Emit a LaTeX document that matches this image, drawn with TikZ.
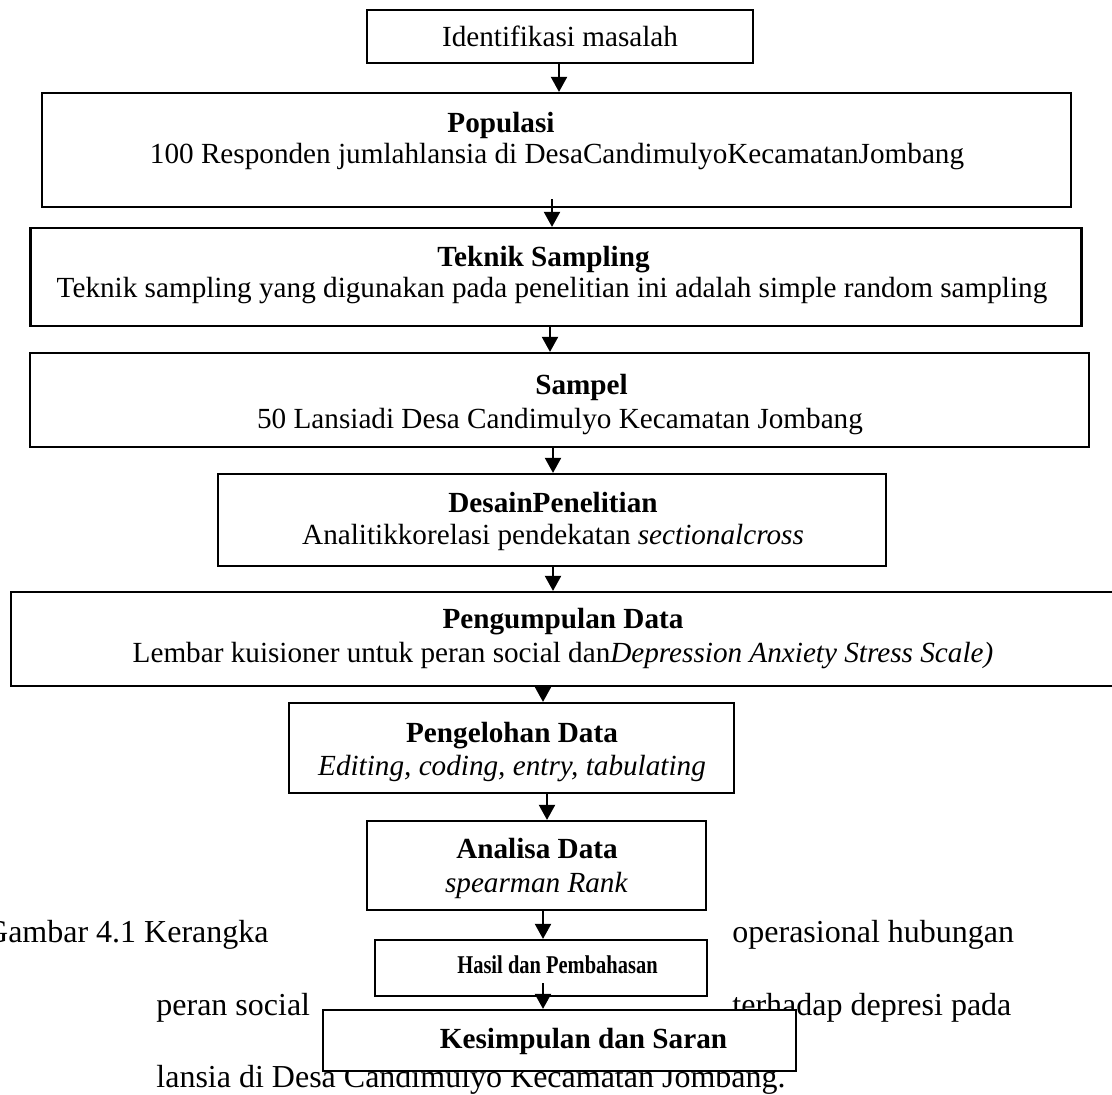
\documentclass[tikz,border=0pt]{standalone}
\usepackage{fontspec}
\setmainfont{Liberation Serif}
\usepackage{graphicx}
\usetikzlibrary{arrows.meta}

\begin{document}
\begin{tikzpicture}[
  x=0.5pt, y=-0.5pt,
  font=\fontsize{14.6}{16.6}\selectfont,
  box/.style={draw=black, fill=white, line width=1.1pt, inner sep=0pt},
  txt/.style={inner sep=0pt, anchor=base},
  captxt/.style={inner sep=0pt, font=\fontsize{16}{18}\selectfont},
  arr/.style={line width=1pt, -{Triangle[length=7.5pt, width=8pt]}},
]
\useasboundingbox (0,0) rectangle (1112,1094);

% ---- caption lines behind the chart ----
\node[captxt, anchor=base east] (capA) at (269,942)  {Gambar 4.1 Kerangka};
\node[captxt, anchor=base west] (capB) at (732,942)  {operasional hubungan};
\node[captxt, anchor=base west] (capC) at (156,1015) {peran social};
\node[captxt, anchor=base west] (capD) at (732,1015) {terhadap depresi pada};
\node[captxt, anchor=base west] (capE) at (156,1087) {lansia di Desa Candimulyo Kecamatan Jombang.};

% ---- boxes ----
\node[box, minimum width=193pt,   minimum height=26.5pt] (ident)  at (560,36.5)   {Identifikasi masalah};
\node[box, minimum width=514.5pt, minimum height=57pt]   (pop)    at (556.5,150)  {};
\node[box, minimum width=525.5pt, minimum height=49pt]   (tek)    at (556,277)    {};
\node[box, minimum width=529.5pt, minimum height=47pt]   (samp)   at (559.5,400)  {};
\node[box, minimum width=334pt,   minimum height=46pt]   (desain) at (552,520)    {};
\node[box, minimum width=552pt,   minimum height=47pt]   (kumpul) at (563,639)    {};
\node[box, minimum width=222.5pt, minimum height=45pt]   (olah)   at (511.5,748)  {};
\node[box, minimum width=169.5pt, minimum height=44.5pt] (analisa) at (536.5,865.5) {};
\node[box, minimum width=166pt,   minimum height=28pt]   (hasil)  at (541,968)    {};
\node[box, minimum width=236.5pt, minimum height=30.5pt] (simpul) at (559.5,1040.5) {};

% ---- box texts ----
\node[txt] (popT)  at (501,132)   {\textbf{Populasi}};
\node[txt] (popD)  at (557,163)   {100 Responden jumlahlansia di DesaCandimulyoKecamatanJombang};
\node[txt] (tekT)  at (543.5,266) {\textbf{Teknik Sampling}};
\node[txt] (tekD)  at (552,297)   {Teknik sampling yang digunakan pada penelitian ini adalah simple random sampling};
\node[txt] (sampT) at (581.5,394) {\textbf{Sampel}};
\node[txt] (sampD) at (560,428)   {50 Lansiadi Desa Candimulyo Kecamatan Jombang};
\node[txt] (desT)  at (553,512)   {\textbf{DesainPenelitian}};
\node[txt] (desD)  at (553,544)   {Analitikkorelasi pendekatan \textit{sectionalcross}};
\node[txt] (kumT)  at (563,628)   {\textbf{Pengumpulan Data}};
\node[txt] (kumD)  at (563,662)   {Lembar kuisioner untuk peran social dan\textit{Depression Anxiety Stress Scale)}};
\node[txt] (olahT) at (512,742)   {\textbf{Pengelohan Data}};
\node[txt] (olahD) at (512,775)   {\textit{Editing, coding, entry, tabulating}};
\node[txt] (anaT)  at (537,858)   {\textbf{Analisa Data}};
\node[txt] (anaD)  at (536.5,892) {\textit{spearman Rank}};
\node[txt] (hasT)  at (557.5,973) {\scalebox{0.8}[1]{\fontsize{12.8}{14}\selectfont\bfseries Hasil dan Pembahasan}};
\node[txt] (simT)  at (583.5,1048) {\textbf{Kesimpulan dan Saran}};

% ---- arrows ----
\draw[arr] ([xshift=-0.5pt]ident.south) -- ([xshift=1.25pt]pop.north);
\draw[arr] ([xshift=-2.25pt, yshift=4.5pt]pop.south) -- ([xshift=-2pt]tek.north);
\draw[arr] ([xshift=-3pt]tek.south) -- ([xshift=-4.75pt]samp.north);
\draw[arr] ([xshift=-3.25pt]samp.south) -- ([xshift=0.5pt]desain.north);
\draw[arr] ([xshift=0.5pt]desain.south) -- ([xshift=-5pt]kumpul.north);
\draw[arr] ([xshift=-10pt]kumpul.south) -- ([xshift=15.75pt]olah.north);
\draw[arr] ([xshift=17.75pt]olah.south) -- ([xshift=5.25pt]analisa.north);
\draw[arr] ([xshift=3.25pt]analisa.south) -- ([xshift=1pt]hasil.north);
\draw[arr] ([xshift=1pt, yshift=7pt]hasil.south) -- ([xshift=-8.25pt]simpul.north);
\end{tikzpicture}
\end{document}
